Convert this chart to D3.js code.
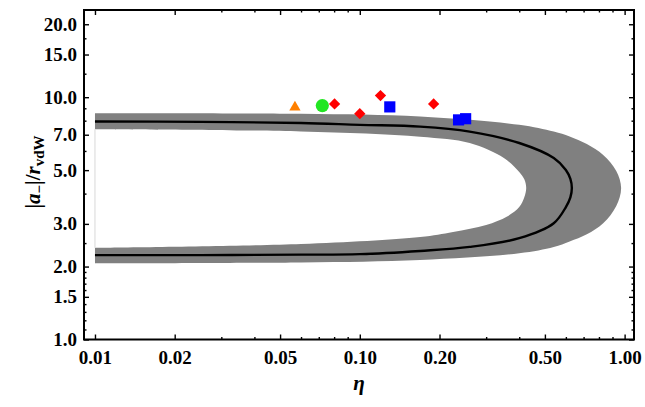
<!DOCTYPE html>
<html>
<head>
<meta charset="utf-8">
<script src="https://cdn.jsdelivr.net/npm/d3@7"></script>
<style>
  body { margin: 0; background: #fff; }
  svg text { font-family: "Liberation Serif", "Times New Roman", "DejaVu Serif", serif; }
</style>
</head>
<body>
<svg id="chart" width="645" height="407"></svg>
<script>
const FONT = 'Liberation Serif, Times New Roman, DejaVu Serif, serif';

// axis ticks
const etaTicks = [0.01, 0.02, 0.05, 0.1, 0.2, 0.5, 1.0];
const etaTickLabels = ["0.01", "0.02", "0.05", "0.10", "0.20", "0.50", "1.00"];
const etaMinorTicks = [0.03, 0.04, 0.06, 0.07, 0.08, 0.09, 0.3, 0.4, 0.6, 0.7, 0.8, 0.9];
const aTicks = [1, 1.5, 2, 3, 5, 7, 10, 15, 20];
const aTickLabels = ["1.0", "1.5", "2.0", "3.0", "5.0", "7.0", "10.0", "15.0", "20.0"];
const aMinorTicks = [1.1, 1.2, 1.3, 1.4, 1.6, 1.7, 1.8, 1.9, 2.5, 4, 6, 8, 9, 12.5, 17.5];

// centre curve (upper branch -> tip -> lower branch)
const curveEta = [0.01, 0.025, 0.06, 0.10, 0.169, 0.26, 0.40, 0.54, 0.60, 0.624, 0.632, 0.624, 0.60, 0.54, 0.40, 0.26, 0.169, 0.10, 0.06, 0.025, 0.01];
const curveA   = [7.94, 7.91, 7.83, 7.69, 7.56, 7.21, 6.47, 5.61, 5.01, 4.60, 4.22, 3.86, 3.52, 3.02, 2.62, 2.41, 2.32, 2.25, 2.24, 2.23, 2.23];

// grey band, outer edge
const outerEta = [0.01, 0.06, 0.169, 0.40, 0.54, 0.62, 0.72, 0.83, 0.93, 0.97, 0.93, 0.83, 0.72, 0.62, 0.54, 0.40, 0.169, 0.06, 0.01];
const outerA   = [8.59, 8.54, 8.32, 7.69, 7.21, 6.89, 6.41, 5.78, 4.96, 4.22, 3.56, 3.02, 2.72, 2.54, 2.41, 2.27, 2.13, 2.08, 2.06];

// grey band, inner edge
const innerEta = [0.01, 0.06, 0.169, 0.26, 0.35, 0.40, 0.418, 0.425, 0.418, 0.40, 0.36, 0.30, 0.225, 0.169, 0.06, 0.01];
const innerA   = [7.38, 7.22, 6.87, 6.47, 5.61, 4.91, 4.58, 4.22, 3.86, 3.52, 3.22, 2.97, 2.78, 2.65, 2.48, 2.39];

// measured points
const triangleEta = [0.0569];
const triangleA   = [9.09];
const circleEta   = [0.0722];
const circleA     = [9.23];
const diamondEta  = [0.0803, 0.100, 0.1197, 0.190];
const diamondA    = [9.38, 8.55, 10.15, 9.38];
const squareEta   = [0.1298, 0.236, 0.251];
const squareA     = [9.12, 8.06, 8.15];

const svg = d3.select('#chart');
const margin = { top: 10, right: 11, bottom: 67.5, left: 84 };
const W = 645, H = 407;

const x = d3.scaleLog().domain([0.00909, 1.085]).range([margin.left, W - margin.right]);
const y = d3.scaleLog().domain([1, 22.9]).range([H - margin.bottom, margin.top]);

const line = d3.line().x(d => x(d[0])).y(d => y(d[1])).curve(d3.curveCatmullRom);

// band: outer edge then inner edge backwards
const outerPts = outerEta.map((e, i) => [e, outerA[i]]);
const innerPts = innerEta.map((e, i) => [e, innerA[i]]).reverse();
const bandPath = line(outerPts) + line(innerPts).replace(/^M/, 'L') + 'Z';

svg.append('path')
  .attr('d', bandPath)
  .attr('fill', '#808080');

// thin edge left by the band fill at eta = 0.01
svg.append('line')
  .attr('x1', x(0.01)).attr('x2', x(0.01))
  .attr('y1', y(innerA[0])).attr('y2', y(innerA[innerA.length - 1]))
  .attr('stroke', '#d8d8d8')
  .attr('stroke-width', 1);

// centre curve
svg.append('path')
  .attr('d', line(curveEta.map((e, i) => [e, curveA[i]])))
  .attr('fill', 'none')
  .attr('stroke', '#000')
  .attr('stroke-width', 2.4);

// markers
svg.selectAll('.tri')
  .data(triangleEta.map((e, i) => [e, triangleA[i]]))
  .enter().append('path')
  .attr('transform', d => `translate(${x(d[0])},${y(d[1])})`)
  .attr('d', d3.symbol().type(d3.symbolTriangle).size(55)())
  .attr('fill', '#ff8000');

svg.selectAll('.circ')
  .data(circleEta.map((e, i) => [e, circleA[i]]))
  .enter().append('circle')
  .attr('cx', d => x(d[0]))
  .attr('cy', d => y(d[1]))
  .attr('r', 6.6)
  .attr('fill', '#22e622');

svg.selectAll('.dia')
  .data(diamondEta.map((e, i) => [e, diamondA[i]]))
  .enter().append('path')
  .attr('transform', d => `translate(${x(d[0])},${y(d[1])}) rotate(45)`)
  .attr('d', d3.symbol().type(d3.symbolSquare).size(64)())
  .attr('fill', '#ff0000');

svg.selectAll('.sq')
  .data(squareEta.map((e, i) => [e, squareA[i]]))
  .enter().append('path')
  .attr('transform', d => `translate(${x(d[0])},${y(d[1])})`)
  .attr('d', d3.symbol().type(d3.symbolSquare).size(125)())
  .attr('fill', '#0000ff');

// axes (ticks point inward)
function styleAxis(g) {
  g.attr('font-family', FONT).attr('font-size', 19).attr('font-weight', 'bold');
  g.select('.domain').remove();
  g.selectAll('.tick line').attr('stroke', '#000').attr('stroke-width', 1.4);
  g.selectAll('.tick text').attr('fill', '#000');
}

const bottomY = H - margin.bottom;
const rightX = W - margin.right;

svg.append('g')
  .attr('transform', `translate(0,${bottomY})`)
  .call(d3.axisBottom(x).tickValues(etaTicks).tickSize(-5).tickPadding(11)
    .tickFormat((d, i) => etaTickLabels[i]))
  .call(styleAxis);
svg.append('g')
  .attr('transform', `translate(0,${bottomY})`)
  .call(d3.axisBottom(x).tickValues(etaMinorTicks).tickSize(-2.5).tickFormat(''))
  .call(styleAxis);
svg.append('g')
  .attr('transform', `translate(0,${margin.top})`)
  .call(d3.axisTop(x).tickValues(etaTicks).tickSize(-5).tickFormat(''))
  .call(styleAxis);
svg.append('g')
  .attr('transform', `translate(0,${margin.top})`)
  .call(d3.axisTop(x).tickValues(etaMinorTicks).tickSize(-2.5).tickFormat(''))
  .call(styleAxis);

svg.append('g')
  .attr('transform', `translate(${margin.left},0)`)
  .call(d3.axisLeft(y).tickValues(aTicks).tickSize(-5).tickPadding(7)
    .tickFormat((d, i) => aTickLabels[i]))
  .call(styleAxis);
svg.append('g')
  .attr('transform', `translate(${margin.left},0)`)
  .call(d3.axisLeft(y).tickValues(aMinorTicks).tickSize(-2.5).tickFormat(''))
  .call(styleAxis);
svg.append('g')
  .attr('transform', `translate(${rightX},0)`)
  .call(d3.axisRight(y).tickValues(aTicks).tickSize(-5).tickFormat(''))
  .call(styleAxis);
svg.append('g')
  .attr('transform', `translate(${rightX},0)`)
  .call(d3.axisRight(y).tickValues(aMinorTicks).tickSize(-2.5).tickFormat(''))
  .call(styleAxis);

// frame
svg.append('rect')
  .attr('x', margin.left)
  .attr('y', margin.top)
  .attr('width', rightX - margin.left)
  .attr('height', bottomY - margin.top)
  .attr('fill', 'none')
  .attr('stroke', '#000')
  .attr('stroke-width', 2);

// axis labels
svg.append('text')
  .attr('x', (margin.left + rightX) / 2)
  .attr('y', 390)
  .attr('text-anchor', 'middle')
  .attr('font-family', FONT)
  .attr('font-weight', 'bold')
  .attr('font-size', 21)
  .attr('font-style', 'italic')
  .text('η');

const yLab = svg.append('text')
  .attr('transform', 'translate(40,172) rotate(-90)')
  .attr('text-anchor', 'middle')
  .attr('font-family', FONT)
  .attr('font-weight', 'bold')
  .attr('font-size', 21);
yLab.append('tspan').text('|');
yLab.append('tspan').attr('font-style', 'italic').text('a');
yLab.append('tspan').attr('baseline-shift', '-25%').attr('font-size', 15).text('−');
yLab.append('tspan').text('|/');
yLab.append('tspan').attr('font-style', 'italic').text('r');
yLab.append('tspan').attr('baseline-shift', '-25%').attr('font-size', 15).text('vdW');
</script>
</body>
</html>
